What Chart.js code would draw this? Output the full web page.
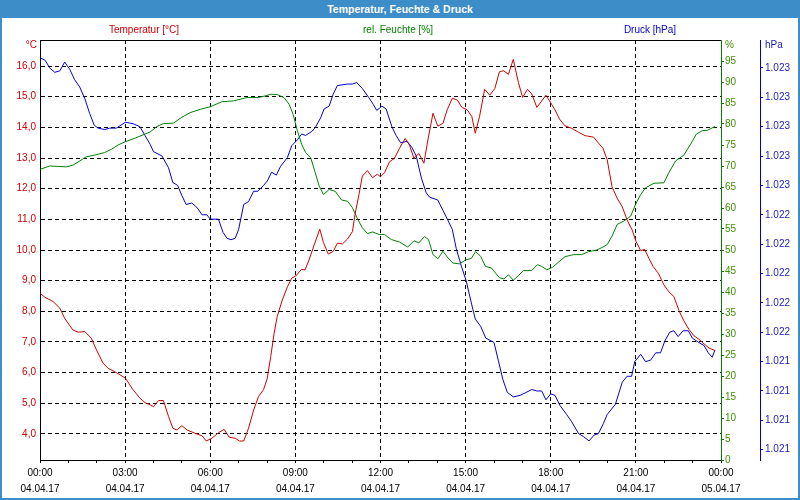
<!DOCTYPE html>
<html lang="de">
<head>
<meta charset="utf-8">
<title>Temperatur, Feuchte &amp; Druck</title>
<script src="https://cdn.jsdelivr.net/npm/chart.js@4.4.1/dist/chart.umd.min.js"></script>
<style>
  body { margin: 0; background: #fff; }
  #wrap { position: relative; width: 800px; height: 500px; overflow: hidden; font-family: "Liberation Sans", Arial, sans-serif; font-size: 10px; }
  #chart { position: absolute; left: 0; top: 0; }
  #frame { position: absolute; left: 0; top: 0; width: 800px; height: 500px; box-sizing: border-box; border: 2px solid #3c8dc8; border-top: none; pointer-events: none; }
  #titlebar { position: absolute; left: 0; top: 0; width: 800px; height: 18px; line-height: 18px; background: #3c8dc8; color: #fff; font-weight: bold; font-size: 10.5px; text-align: center; }
  .lbl { position: absolute; line-height: 12px; white-space: nowrap; }
  .center { transform: translateX(-50%); }
</style>
</head>
<body>
<div id="wrap">
  <canvas id="chart" width="800" height="500"></canvas>
  <div id="frame"></div>
  <div id="titlebar">Temperatur, Feuchte &amp; Druck</div>
  <div class="lbl center" style="left:144px; top:24px; color:#cc0000">Temperatur [°C]</div>
  <div class="lbl center" style="left:398px; top:24px; color:#008000">rel. Feuchte [%]</div>
  <div class="lbl center" style="left:650px; top:24px; color:#0000cc">Druck [hPa]</div>
  <div class="lbl" style="right:763px; top:39px; color:#d00000">°C</div>
  <div class="lbl" style="left:725px; top:39px; color:#3f8f00">%</div>
  <div class="lbl" style="left:765px; top:39px; color:#1a1acc">hPa</div>
</div>
<script>
// time in hours since 04.04.17 00:00
const tempTimes = [
    0, 0.17, 0.46, 0.70, 0.87, 1.16, 1.34, 1.58, 1.81, 1.99,
    2.22, 2.40, 2.69, 3.01, 3.28, 3.52, 3.70, 3.88, 4.00, 4.18,
    4.35, 4.53, 4.68, 4.82, 5.00, 5.18, 5.47, 5.71, 5.86, 6.06,
    6.29, 6.49, 6.67, 6.88, 7.03, 7.18, 7.35, 7.53, 7.70, 7.88,
    8.01, 8.13, 8.25, 8.36, 8.54, 8.72, 8.87, 9.01, 9.22, 9.34,
    9.48, 9.66, 9.86, 9.99, 10.16, 10.33, 10.48, 10.66, 10.84, 11.01,
    11.11, 11.25, 11.36, 11.54, 11.72, 11.89, 12.00, 12.14, 12.32, 12.49,
    12.67, 12.87, 13.02, 13.18, 13.35, 13.53, 13.67, 13.85, 14.02, 14.20,
    14.35, 14.53, 14.71, 14.87, 15.06, 15.22, 15.34, 15.49, 15.67, 15.85,
    16.03, 16.19, 16.33, 16.51, 16.68, 16.86, 17.01, 17.18, 17.33, 17.51,
    17.68, 17.83, 18.00, 18.15, 18.31, 18.50, 18.74, 18.98, 19.21, 19.51,
    19.69, 19.84, 19.99, 20.16, 20.34, 20.52, 20.69, 20.87, 21.01, 21.17,
    21.31, 21.46, 21.61, 21.79, 21.99, 22.16, 22.34, 22.52, 22.69, 22.87,
    23.05, 23.22, 23.40, 23.58, 23.79
];
const tempValues = [
    8.59, 8.46, 8.32, 8.10, 7.77, 7.39, 7.32, 7.34, 7.12, 6.74,
    6.31, 6.14, 6.00, 5.82, 5.44, 5.17, 5.02, 4.95, 4.89, 5.09,
    5.09, 4.57, 4.19, 4.13, 4.27, 4.13, 4.02, 3.94, 3.77, 3.86,
    4.04, 4.15, 3.89, 3.86, 3.77, 3.77, 4.19, 4.78, 5.22, 5.45,
    5.82, 6.52, 7.28, 7.83, 8.37, 8.80, 9.08, 9.15, 9.37, 9.35,
    9.67, 10.16, 10.68, 10.24, 9.87, 9.95, 10.22, 10.20, 10.36, 10.60,
    11.20, 11.85, 12.41, 12.59, 12.36, 12.47, 12.39, 12.52, 12.88, 12.99,
    13.32, 13.64, 13.42, 12.99, 13.15, 12.83, 13.59, 14.46, 14.04, 14.13,
    14.57, 14.95, 14.89, 14.65, 14.57, 14.35, 13.81, 14.35, 15.24, 15.05,
    15.27, 15.81, 15.85, 15.73, 16.22, 15.46, 14.98, 15.24, 15.09, 14.65,
    14.86, 15.05, 14.80, 14.57, 14.27, 14.05, 13.97, 13.84, 13.73, 13.68,
    13.48, 13.32, 12.94, 12.06, 11.69, 11.41, 10.98, 10.65, 10.27, 9.98,
    10.02, 9.73, 9.46, 9.24, 8.86, 8.64, 8.48, 8.02, 7.69, 7.41,
    7.20, 7.09, 6.94, 6.80, 6.72
];

const humTimes = [
    0, 0.34, 0.64, 0.93, 1.16, 1.40, 1.63, 1.93, 2.28, 2.52,
    2.75, 3.01, 3.34, 3.70, 3.88, 4.12, 4.35, 4.70, 5.00, 5.29,
    5.65, 6.00, 6.41, 6.82, 7.30, 7.70, 8.00, 8.13, 8.36, 8.60,
    8.78, 8.92, 9.07, 9.22, 9.36, 9.54, 9.70, 9.84, 9.99, 10.19,
    10.40, 10.63, 10.84, 11.01, 11.19, 11.36, 11.54, 11.72, 11.95, 12.14,
    12.38, 12.67, 12.96, 13.18, 13.35, 13.55, 13.69, 13.85, 14.02, 14.20,
    14.38, 14.55, 14.79, 14.99, 15.20, 15.35, 15.53, 15.70, 15.91, 16.19,
    16.35, 16.51, 16.68, 16.86, 17.04, 17.33, 17.53, 17.68, 17.86, 18.07,
    18.27, 18.50, 18.80, 19.09, 19.33, 19.62, 19.84, 19.99, 20.16, 20.34,
    20.58, 20.82, 20.99, 21.17, 21.34, 21.64, 21.99, 22.16, 22.40, 22.69,
    22.93, 23.13, 23.34, 23.52, 23.79
];
const humValues = [
    69.2, 70.0, 69.9, 69.8, 70.2, 71.2, 72.2, 72.6, 73.2, 74.0,
    75.0, 75.8, 76.6, 77.6, 78.1, 79.4, 80.1, 80.2, 81.6, 82.7,
    83.5, 84.1, 85.3, 85.5, 86.3, 86.3, 86.8, 87.1, 87.0, 86.3,
    84.7, 82.3, 78.4, 75.2, 73.2, 72.0, 68.4, 65.2, 63.2, 64.4,
    64.0, 61.9, 61.6, 60.1, 57.4, 55.3, 53.9, 54.3, 53.7, 53.7,
    52.5, 51.9, 50.7, 52.2, 51.7, 53.2, 52.5, 48.9, 47.9, 49.7,
    48.1, 46.9, 46.7, 47.6, 48.0, 49.6, 48.5, 46.1, 45.7, 43.4,
    43.1, 44.1, 42.8, 43.9, 45.1, 45.1, 46.5, 46.1, 45.3, 45.9,
    47.1, 48.4, 48.9, 48.9, 49.6, 50.0, 50.7, 51.3, 53.3, 56.1,
    56.9, 58.1, 60.9, 63.2, 64.8, 65.9, 66.0, 68.4, 71.2, 72.6,
    75.2, 77.6, 78.4, 78.5, 79.4
];

const pressTimes = [
    0, 0.19, 0.34, 0.52, 0.70, 0.87, 1.05, 1.22, 1.40, 1.58,
    1.75, 1.91, 2.05, 2.28, 2.46, 2.69, 3.01, 3.28, 3.52, 3.70,
    3.88, 4.00, 4.30, 4.53, 4.68, 4.85, 5.00, 5.15, 5.35, 5.53,
    5.71, 5.88, 6.00, 6.29, 6.45, 6.59, 6.73, 6.88, 7.00, 7.18,
    7.35, 7.53, 7.68, 7.88, 8.01, 8.16, 8.33, 8.48, 8.72, 8.87,
    9.07, 9.22, 9.36, 9.60, 9.72, 9.89, 10.01, 10.19, 10.33, 10.48,
    10.84, 11.01, 11.16, 11.36, 11.58, 11.75, 11.87, 12.05, 12.20, 12.40,
    12.55, 12.71, 12.94, 13.10, 13.26, 13.44, 13.61, 13.73, 14.02, 14.20,
    14.38, 14.53, 14.67, 14.85, 15.02, 15.20, 15.34, 15.53, 15.71, 15.91,
    16.00, 16.15, 16.31, 16.47, 16.68, 16.92, 17.13, 17.33, 17.51, 17.68,
    17.83, 18.00, 18.15, 18.33, 18.56, 18.74, 18.98, 19.15, 19.35, 19.53,
    19.68, 19.86, 19.99, 20.28, 20.52, 20.69, 20.85, 20.96, 21.17, 21.34,
    21.52, 21.70, 21.87, 22.02, 22.19, 22.34, 22.49, 22.66, 22.85, 22.99,
    23.22, 23.40, 23.55, 23.69, 23.79
];
const pressValues = [
    1023.47, 1023.45, 1023.40, 1023.37, 1023.38, 1023.44, 1023.39, 1023.32, 1023.27, 1023.19,
    1023.09, 1023.01, 1022.99, 1022.98, 1022.99, 1022.99, 1023.03, 1023.02, 1023.00, 1022.94,
    1022.88, 1022.83, 1022.80, 1022.72, 1022.62, 1022.60, 1022.53, 1022.47, 1022.48, 1022.45,
    1022.40, 1022.40, 1022.37, 1022.37, 1022.28, 1022.24, 1022.23, 1022.24, 1022.30, 1022.47,
    1022.49, 1022.56, 1022.56, 1022.60, 1022.63, 1022.69, 1022.67, 1022.73, 1022.79, 1022.87,
    1022.91, 1022.95, 1022.94, 1022.97, 1023.00, 1023.06, 1023.12, 1023.14, 1023.22, 1023.28,
    1023.29, 1023.29, 1023.30, 1023.26, 1023.20, 1023.15, 1023.11, 1023.14, 1023.12, 1023.00,
    1022.94, 1022.89, 1022.90, 1022.86, 1022.80, 1022.65, 1022.55, 1022.52, 1022.50, 1022.43,
    1022.36, 1022.30, 1022.17, 1022.05, 1021.95, 1021.80, 1021.69, 1021.64, 1021.56, 1021.54,
    1021.53, 1021.41, 1021.28, 1021.19, 1021.16, 1021.17, 1021.19, 1021.21, 1021.20, 1021.20,
    1021.14, 1021.18, 1021.17, 1021.10, 1021.04, 1020.99, 1020.91, 1020.89, 1020.86, 1020.90,
    1020.91, 1020.98, 1021.04, 1021.11, 1021.26, 1021.30, 1021.30, 1021.40, 1021.45, 1021.40,
    1021.41, 1021.46, 1021.46, 1021.54, 1021.60, 1021.61, 1021.57, 1021.61, 1021.61, 1021.56,
    1021.53, 1021.51, 1021.46, 1021.43, 1021.48
];

// axis ticks
const hourTicks = [0, 1, 2, 3, 4, 5, 6, 7, 8, 9, 10, 11, 12, 13, 14, 15, 16, 17, 18, 19, 20, 21, 22, 23, 24];
const timeLabels = ["00:00", "03:00", "06:00", "09:00", "12:00", "15:00", "18:00", "21:00", "00:00"];
const dateLabels = ["04.04.17", "04.04.17", "04.04.17", "04.04.17", "04.04.17", "04.04.17", "04.04.17", "04.04.17", "05.04.17"];
const tempTicks = [4, 5, 6, 7, 8, 9, 10, 11, 12, 13, 14, 15, 16];
const humTicks = [0, 5, 10, 15, 20, 25, 30, 35, 40, 45, 50, 55, 60, 65, 70, 75, 80, 85, 90, 95];
const pressTicks = [1020.8, 1021.0, 1021.2, 1021.4, 1021.6, 1021.8, 1022.0, 1022.2, 1022.4, 1022.6, 1022.8, 1023.0, 1023.2, 1023.4];

function toPoints(times, values) {
    return times.map((t, i) => ({ x: t, y: values[i] }));
}

function setTicks(list) {
    return function (axis) {
        axis.ticks = list.map(v => ({ value: v }));
    };
}

// black line on top of the plot area
const topBorder = {
    id: "topBorder",
    afterDraw(chart) {
        const { ctx, chartArea } = chart;
        ctx.save();
        ctx.strokeStyle = "#000";
        ctx.lineWidth = 1;
        ctx.beginPath();
        ctx.moveTo(chartArea.left, chartArea.top + 0.5);
        ctx.lineTo(chartArea.right, chartArea.top + 0.5);
        ctx.stroke();
        ctx.restore();
    }
};

Chart.defaults.font.family = "'Liberation Sans', Arial, sans-serif";
Chart.defaults.font.size = 10;

new Chart(document.getElementById("chart"), {
    type: "line",
    data: {
        datasets: [
            {
                label: "Temperatur [°C]",
                data: toPoints(tempTimes, tempValues),
                yAxisID: "yTemp",
                borderColor: "#cc0000",
                borderWidth: 1,
                pointRadius: 0
            },
            {
                label: "rel. Feuchte [%]",
                data: toPoints(humTimes, humValues),
                yAxisID: "yHum",
                borderColor: "#008000",
                borderWidth: 1,
                pointRadius: 0
            },
            {
                label: "Druck [hPa]",
                data: toPoints(pressTimes, pressValues),
                yAxisID: "yPress",
                borderColor: "#0000cc",
                borderWidth: 1,
                pointRadius: 0
            }
        ]
    },
    options: {
        responsive: false,
        animation: false,
        events: [],
        layout: { padding: { top: 40, left: 0, right: 0, bottom: 0 } },
        plugins: {
            legend: { display: false },
            tooltip: { enabled: false }
        },
        scales: {
            x: {
                type: "linear",
                position: "bottom",
                min: 0,
                max: 24,
                afterBuildTicks: setTicks(hourTicks),
                afterFit: axis => { axis.height = 40; },
                ticks: {
                    autoSkip: false,
                    maxRotation: 0,
                    padding: 2,
                    color: "#000",
                    font: { lineHeight: 1.6 },
                    callback: v => (v % 3 === 0 ? [timeLabels[v / 3], dateLabels[v / 3]] : "")
                },
                grid: {
                    color: c => (c.tick && c.tick.value % 3 === 0 && c.tick.value > 0 && c.tick.value < 24 ? "#000" : "transparent"),
                    tickColor: "#000",
                    tickLength: 3
                },
                border: { color: "#000", dash: [4, 3] }
            },
            yTemp: {
                position: "left",
                min: 3.15,
                max: 16.85,
                afterBuildTicks: setTicks(tempTicks),
                afterFit: axis => { axis.width = 40; },
                ticks: {
                    color: "#d00000",
                    padding: 4,
                    callback: v => v.toFixed(1).replace(".", ",")
                },
                grid: { color: "#000", drawTicks: false },
                border: { color: "#000", dash: [4, 3] }
            },
            yHum: {
                position: "right",
                weight: 1,
                min: 0,
                max: 100,
                afterBuildTicks: setTicks(humTicks),
                afterFit: axis => { axis.width = 39; },
                ticks: { color: "#3f8f00", padding: 1 },
                grid: { drawOnChartArea: false, tickLength: 3, tickColor: "#008000" },
                border: { color: "#008000" }
            },
            yPress: {
                position: "right",
                weight: 2,
                min: 1020.73,
                max: 1023.59,
                afterBuildTicks: setTicks(pressTicks),
                afterFit: axis => { axis.width = 40; },
                ticks: {
                    color: "#1a1acc",
                    padding: 2,
                    // German thousands separator: 1023 -> "1.023"
                    callback: v => "1." + String(Math.round(v) % 1000).padStart(3, "0")
                },
                grid: { drawOnChartArea: false, tickLength: 3, tickColor: "#0000cc" },
                border: { color: "#0000cc" }
            }
        }
    },
    plugins: [topBorder]
});
</script>
</body>
</html>
